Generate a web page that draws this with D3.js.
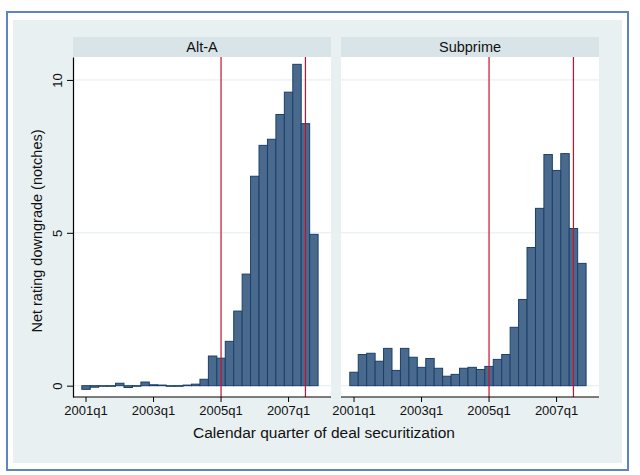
<!DOCTYPE html>
<html>

<head>
    <meta charset="utf-8">
    <title>Net rating downgrade by quarter</title>
    <script src="https://d3js.org/d3.v7.min.js"></script>
    <style>
        body {
            margin: 0;
            background: #ffffff;
        }

        text {
            font-family: "Liberation Sans", Arial, sans-serif;
            fill: #111;
        }
    </style>
</head>

<body>
    <svg width="640" height="475"></svg>
    <script>
        // quarters 2001q1 .. 2007q4
        var quarters = [];
        [2001, 2002, 2003, 2004, 2005, 2006, 2007].forEach(function (yr) {
            for (var q = 1; q <= 4; q++) quarters.push(yr + "q" + q);
        });

        // net rating downgrade (notches), one value per quarter
        var altA = [-0.12, -0.05, -0.02, -0.02, 0.08, -0.06, -0.02, 0.12,
            0.03, 0.02, -0.02, -0.02, 0.02, 0.05, 0.21, 0.97,
            0.90, 1.45, 2.44, 3.65, 6.85, 7.86, 8.06, 8.87,
            9.60, 10.51, 8.57, 4.95];
        var subprime = [0.44, 1.02, 1.06, 0.80, 1.22, 0.50, 1.22, 0.93,
            0.60, 0.89, 0.57, 0.31, 0.37, 0.57, 0.60, 0.53,
            0.63, 0.86, 1.02, 1.91, 2.82, 4.52, 5.80, 7.56,
            7.04, 7.59, 5.14, 4.00];

        var panelNames = ["Alt-A", "Subprime"];
        var xTicks = ["2001q1", "2003q1", "2005q1", "2007q1"];
        var yTicks = [0, 5, 10];
        var refLines = ["2005q1", "2007q3"];

        var svg = d3.select("svg");

        // outer frame + graph region
        svg.append("rect").attr("x", 7).attr("y", 12).attr("width", 621).attr("height", 458)
            .attr("fill", "#ffffff").attr("stroke", "#5b86c2").attr("stroke-width", 2);
        svg.append("rect").attr("x", 13).attr("y", 20).attr("width", 609).attr("height", 443)
            .attr("fill", "#e8f0f2");

        var plotTop = 57, plotBottom = 397, plotW = 258;
        var panelLeft = [73, 341];

        var y = d3.scaleLinear().domain([-0.37, 10.75]).range([plotBottom, plotTop]);

        var x = d3.scaleBand().domain(quarters).range([8.8, 245.1]).padding(0);

        [altA, subprime].forEach(function (values, p) {
            var g = svg.append("g").attr("transform", "translate(" + panelLeft[p] + ",0)");

            // header strip
            g.append("rect").attr("x", 0).attr("y", 37).attr("width", plotW).attr("height", 20)
                .attr("fill", "#d9e4e9");
            g.append("text").attr("x", plotW / 2).attr("y", 51.5)
                .attr("text-anchor", "middle").style("font-size", "14.5px").text(panelNames[p]);

            // plot region
            g.append("rect").attr("x", 0).attr("y", plotTop).attr("width", plotW)
                .attr("height", plotBottom - plotTop).attr("fill", "#ffffff");

            // gridlines
            g.selectAll(".grid").data(yTicks).enter().append("line")
                .attr("x1", 0).attr("x2", plotW)
                .attr("y1", function (d) { return y(d); })
                .attr("y2", function (d) { return y(d); })
                .attr("stroke", "#e4edf0").attr("stroke-width", 1);

            // bars
            g.selectAll(".bar").data(values).enter().append("rect")
                .attr("class", "bar")
                .attr("x", function (d, i) { return x(quarters[i]); })
                .attr("width", x.bandwidth())
                .attr("y", function (d) { return y(Math.max(0, d)); })
                .attr("height", function (d) { return Math.max(0.6, Math.abs(y(d) - y(0))); })
                .attr("fill", "#4a6a8d")
                .attr("stroke", "#1a406a")
                .attr("stroke-width", 1);

            // reference lines
            g.selectAll(".ref").data(refLines).enter().append("line")
                .attr("x1", function (d) { return x(d) + x.bandwidth() / 2; })
                .attr("x2", function (d) { return x(d) + x.bandwidth() / 2; })
                .attr("y1", plotTop).attr("y2", plotBottom)
                .attr("stroke", "#c8102e").attr("stroke-width", 1.2);

            // x axis
            var xAxis = g.append("g").attr("transform", "translate(0," + plotBottom + ")")
                .call(d3.axisBottom(x).tickValues(xTicks).tickSize(5).tickPadding(4));
            xAxis.select(".domain").remove();
            xAxis.append("line").attr("x1", 0).attr("x2", plotW)
                .attr("stroke", "#000").attr("stroke-width", 1.2);
            xAxis.selectAll("text").style("font-size", "13px")
                .style("font-family", "'Liberation Sans', Arial, sans-serif").attr("fill", "#111");

            // y axis only on the first panel
            if (p === 0) {
                var yAxis = g.append("g")
                    .call(d3.axisLeft(y).tickValues(yTicks).tickSize(6).tickSizeOuter(0));
                yAxis.select(".domain").attr("stroke-width", 1.2);
                yAxis.selectAll("text")
                    .attr("transform", "rotate(-90)")
                    .attr("x", 0).attr("y", -11).attr("dy", 0)
                    .attr("text-anchor", "middle")
                    .style("font-size", "13px")
                    .style("font-family", "'Liberation Sans', Arial, sans-serif").attr("fill", "#111");
            }
        });

        // axis titles
        svg.append("text")
            .attr("transform", "translate(42,231) rotate(-90)")
            .attr("text-anchor", "middle")
            .style("font-size", "14.5px")
            .text("Net rating downgrade (notches)");

        svg.append("text")
            .attr("x", 324).attr("y", 438)
            .attr("text-anchor", "middle")
            .style("font-size", "15.5px")
            .text("Calendar quarter of deal securitization");
    </script>
</body>

</html>
